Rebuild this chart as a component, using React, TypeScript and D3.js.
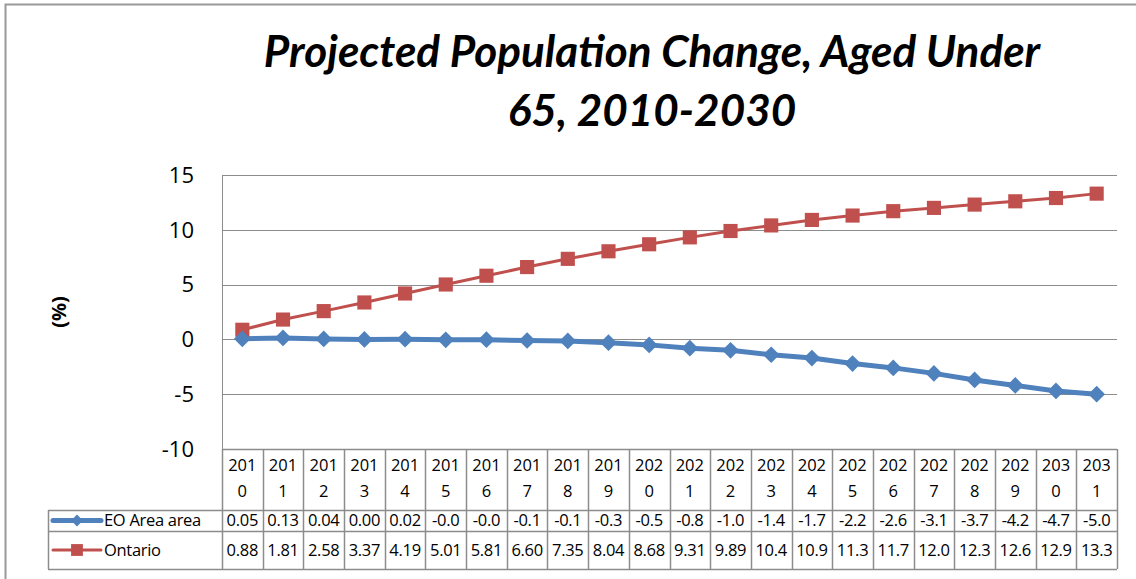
import { useEffect, useRef } from "react"
import * as d3 from "d3"

const years = [
  "2010", "2011", "2012", "2013", "2014", "2015", "2016", "2017", "2018", "2019", "2020",
  "2021", "2022", "2023", "2024", "2025", "2026", "2027", "2028", "2029", "2030", "2031",
]
const eoArea = [
  0.05, 0.13, 0.04, 0.0, 0.02, -0.04, -0.03, -0.1, -0.14, -0.3, -0.5,
  -0.8, -1.0, -1.4, -1.7, -2.2, -2.6, -3.1, -3.7, -4.2, -4.7, -5.0,
]
const ontario = [
  0.88, 1.81, 2.58, 3.37, 4.19, 5.01, 5.81, 6.6, 7.35, 8.04, 8.68,
  9.31, 9.89, 10.4, 10.9, 11.3, 11.7, 12.0, 12.3, 12.6, 12.9, 13.3,
]
const yTicks = [-10, -5, 0, 5, 10, 15]

const BLUE = "#4F81BD"
const RED = "#C0504D"
const GRID = "#8c8c8c"

// Excel-ish cell formatting: fit in 4 characters
const fmt = (v: number) => (v < 0 || v >= 10 ? v.toFixed(1) : v.toFixed(2))

export default function App() {
  const svgRef = useRef<SVGSVGElement>(null)

  useEffect(() => {
    if (!svgRef.current) return
    document.body.style.margin = "0"
    const root = d3.select(svgRef.current)
    root.selectAll("*").remove()

    const W = 1136
    const H = 579
    const plot = { left: 222, right: 1117, top: 175, bottom: 449 }
    const headerBottom = 510
    const row1Bottom = 531
    const row2Bottom = 569
    const legendLeft = 48
    const font = "'Open Sans', 'Liberation Sans', sans-serif"

    root.attr("width", W).attr("height", H)

    // outer chart border (only top/left visible in the crop)
    root
      .append("path")
      .attr("d", `M5.5,${H}V4.5H${W}`)
      .attr("fill", "none")
      .attr("stroke", "#999")
      .attr("stroke-width", 2)

    // title
    const title = root
      .append("text")
      .attr("text-anchor", "middle")
      .attr("font-family", "Lato, 'Open Sans', sans-serif")
      .attr("font-style", "italic")
      .attr("font-weight", "bold")
      .attr("font-size", 44)
      .attr("fill", "black")
    title.append("tspan").attr("x", 652).attr("y", 67).text("Projected Population Change, Aged Under")
    title.append("tspan").attr("x", 652).attr("y", 126).text("65, 2010-2030")

    const x = d3.scaleBand().domain(years).range([plot.left, plot.right]).padding(0)
    const y = d3.scaleLinear().domain([-10, 15]).range([plot.bottom, plot.top])
    const cx = (i: number) => (x(years[i]) || 0) + x.bandwidth() / 2

    // gridlines
    root
      .append("g")
      .selectAll("line")
      .data(yTicks)
      .enter()
      .append("line")
      .attr("x1", plot.left)
      .attr("x2", plot.right)
      .attr("y1", (d) => Math.round(y(d)) + 0.5)
      .attr("y2", (d) => Math.round(y(d)) + 0.5)
      .attr("stroke", GRID)
      .attr("stroke-width", 1)

    // y axis line
    root
      .append("line")
      .attr("x1", plot.left + 0.5)
      .attr("x2", plot.left + 0.5)
      .attr("y1", plot.top)
      .attr("y2", plot.bottom)
      .attr("stroke", GRID)

    // y tick labels
    root
      .append("g")
      .selectAll("text")
      .data(yTicks)
      .enter()
      .append("text")
      .attr("x", 194)
      .attr("y", (d) => y(d))
      .attr("dy", "0.35em")
      .attr("text-anchor", "end")
      .attr("font-family", font)
      .attr("font-size", 22)
      .attr("fill", "black")
      .text((d) => String(d))

    // y axis title
    root
      .append("text")
      .attr("transform", `translate(66,${(plot.top + plot.bottom) / 2}) rotate(-90)`)
      .attr("text-anchor", "middle")
      .attr("font-family", font)
      .attr("font-weight", "bold")
      .attr("font-size", 20)
      .attr("fill", "black")
      .text("(%)")

    // data table
    const table = root.append("g")
    const hLine = (y0: number, x0: number, x1: number) =>
      table
        .append("line")
        .attr("x1", x0)
        .attr("x2", x1)
        .attr("y1", y0 + 0.5)
        .attr("y2", y0 + 0.5)
        .attr("stroke", GRID)
        .attr("stroke-width", 1.5)
    hLine(plot.bottom, plot.left, plot.right)
    hLine(headerBottom, legendLeft, plot.right)
    hLine(row1Bottom, legendLeft, plot.right)
    hLine(row2Bottom, legendLeft, plot.right)

    const colEdges = years.map((yr) => x(yr) || 0).concat([plot.right])
    colEdges.forEach((cx0) => {
      table
        .append("line")
        .attr("x1", Math.round(cx0) + 0.5)
        .attr("x2", Math.round(cx0) + 0.5)
        .attr("y1", plot.bottom)
        .attr("y2", row2Bottom)
        .attr("stroke", GRID)
        .attr("stroke-width", 1.5)
    })
    table
      .append("line")
      .attr("x1", legendLeft + 0.5)
      .attr("x2", legendLeft + 0.5)
      .attr("y1", headerBottom)
      .attr("y2", row2Bottom)
      .attr("stroke", GRID)
      .attr("stroke-width", 1.5)

    // header years wrapped in two lines
    years.forEach((yr, i) => {
      const t = table
        .append("text")
        .attr("text-anchor", "middle")
        .attr("font-family", font)
        .attr("font-size", 16.5)
        .attr("fill", "black")
      t.append("tspan").attr("x", cx(i)).attr("y", 471).text(yr.slice(0, 3))
      t.append("tspan").attr("x", cx(i)).attr("y", 497).text(yr.slice(3))
    })

    const rows = [
      { name: "EO Area area", values: eoArea, color: BLUE, shape: "diamond", yMid: (headerBottom + row1Bottom) / 2 },
      { name: "Ontario", values: ontario, color: RED, shape: "square", yMid: (row1Bottom + row2Bottom) / 2 },
    ]

    rows.forEach((r) => {
      table
        .selectAll(null)
        .data(r.values)
        .enter()
        .append("text")
        .attr("x", (_, i) => cx(i))
        .attr("y", r.yMid)
        .attr("dy", "0.35em")
        .attr("text-anchor", "middle")
        .attr("font-family", font)
        .attr("font-size", 16.5)
        .attr("letter-spacing", -0.3)
        .attr("fill", "black")
        .text((d) => fmt(d))

      // legend key
      table
        .append("line")
        .attr("x1", 53)
        .attr("x2", 101)
        .attr("y1", r.yMid)
        .attr("y2", r.yMid)
        .attr("stroke", r.color)
        .attr("stroke-width", r.shape === "diamond" ? 5 : 3)
        .attr("stroke-linecap", "round")
      const sym = d3.symbol().type(d3.symbolSquare).size(r.shape === "diamond" ? 70 : 140)
      table
        .append("path")
        .attr("d", sym()!)
        .attr("transform", `translate(77,${r.yMid})${r.shape === "diamond" ? " rotate(45)" : ""}`)
        .attr("fill", r.color)
      table
        .append("text")
        .attr("x", 104)
        .attr("y", r.yMid)
        .attr("dy", "0.35em")
        .attr("font-family", font)
        .attr("font-size", 16.5)
        .attr("letter-spacing", -0.3)
        .attr("fill", "black")
        .text(r.name)
    })

    // series lines
    const line = d3
      .line<number>()
      .x((_, i) => cx(i))
      .y((d) => y(d))

    root
      .append("path")
      .datum(ontario)
      .attr("fill", "none")
      .attr("stroke", RED)
      .attr("stroke-width", 3)
      .attr("d", line)
    root
      .append("path")
      .datum(eoArea)
      .attr("fill", "none")
      .attr("stroke", BLUE)
      .attr("stroke-width", 5)
      .attr("stroke-linejoin", "round")
      .attr("d", line)

    // markers
    const square = d3.symbol().type(d3.symbolSquare).size(200)
    root
      .append("g")
      .selectAll("path")
      .data(ontario)
      .enter()
      .append("path")
      .attr("d", square()!)
      .attr("transform", (d, i) => `translate(${cx(i)},${y(d)})`)
      .attr("fill", RED)

    const diamond = d3.symbol().type(d3.symbolSquare).size(140)
    root
      .append("g")
      .selectAll("path")
      .data(eoArea)
      .enter()
      .append("path")
      .attr("d", diamond()!)
      .attr("transform", (d, i) => `translate(${cx(i)},${y(d)}) rotate(45)`)
      .attr("fill", BLUE)
  }, [])

  return (
    <div style={{ width: 1136, height: 579 }}>
      <svg ref={svgRef} style={{ display: "block" }}></svg>
    </div>
  )
}
